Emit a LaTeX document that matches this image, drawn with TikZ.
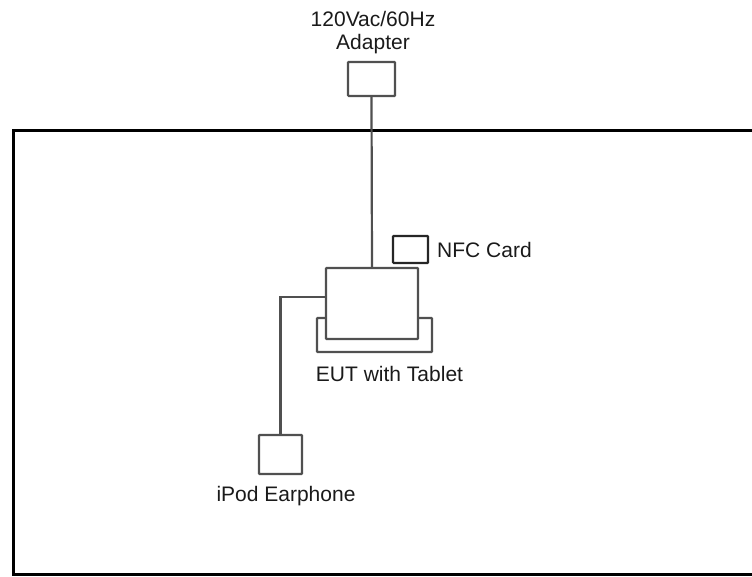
\documentclass[tikz,border=0pt]{standalone}
\usepackage{fontspec}
\setmainfont{Liberation Sans}
\usetikzlibrary{calc}
\definecolor{boxgray}{HTML}{505050}
\definecolor{txt}{HTML}{1a1a1a}
\tikzset{
  dev/.style={draw=boxgray, line width=2.2pt, fill=white, inner sep=0pt, rounded corners=0.8pt},
  cable/.style={draw=boxgray, line width=2.2pt},
  lbl/.style={text=txt, font=\fontsize{21}{21}\selectfont, inner sep=0pt},
  frame/.style={draw=black, line width=3pt}
}
\begin{document}
\begin{tikzpicture}[x=1pt,y=-1pt]
\useasboundingbox (0,0) rectangle (752,577);
\begin{scope}
\clip (0,0) rectangle (752,577);
\draw[frame] (13,131) rectangle (770,574);
\end{scope}
% adapter
\node[dev, minimum width=47pt, minimum height=34pt] (adp) at (371.5,79) {};
\node[lbl, anchor=base] (adpl1) at (373,27) {120Vac/60Hz};
\node[lbl, anchor=base] (adpl2) at (373,50) {Adapter};
% tray
\node[dev, minimum width=115pt, minimum height=34pt] (tray) at (374.5,335) {};
% EUT
\node[dev, minimum width=92pt, minimum height=71pt] (eut) at (372,303.5) {};
\node[lbl, anchor=base] (eutl) at (389.5,381) {EUT with Tablet};
% NFC
\node[dev, minimum width=35pt, minimum height=27pt, draw=black!85] (nfc) at (410.5,249.5) {};
\node[lbl, anchor=base west] (nfcl) at (437,258) {NFC Card};
% earphone
\node[dev, minimum width=43pt, minimum height=39pt] (ear) at (280.5,454.5) {};
\node[lbl, anchor=base] (earl) at (286,501) {iPod Earphone};
% cables
\draw[cable] (adp.south) -- (eut.north);
\draw[cable] ([yshift=6.5pt]eut.west) -| (ear.north);
\end{tikzpicture}
\end{document}
